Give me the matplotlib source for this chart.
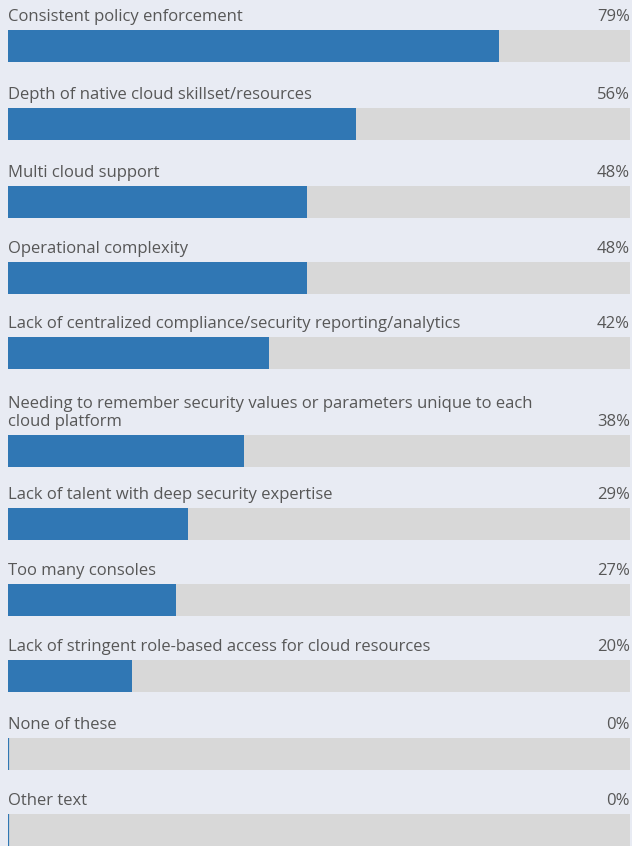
import matplotlib
matplotlib.use("Agg")
import matplotlib.pyplot as plt
import matplotlib.transforms as mtransforms

categories = [
    "Consistent policy enforcement",
    "Depth of native cloud skillset/resources",
    "Multi cloud support",
    "Operational complexity",
    "Lack of centralized compliance/security reporting/analytics",
    "Needing to remember security values or parameters unique to each\ncloud platform",
    "Lack of talent with deep security expertise",
    "Too many consoles",
    "Lack of stringent role-based access for cloud resources",
    "None of these",
    "Other text",
]
values = [79, 56, 48, 48, 42, 38, 29, 27, 20, 0, 0]
value_labels = [f"{v}%" for v in values]

# layout (pixel rows, top of each bar)
bar_tops = [30, 108, 186, 262, 337, 435, 508, 584, 660, 738, 814]
bar_h = 32

BG = "#e8ebf3"
TRACK = "#d8d8d8"
BLUE = "#3077b4"
TEXT = "#575757"

W, H = 632, 846
fig = plt.figure(figsize=(W / 100, H / 100), dpi=100, facecolor=BG)
ax = fig.add_axes([8 / W, 0, (630 - 8) / W, 1])
ax.set_facecolor(BG)
ax.set_xlim(0, 100)
ax.set_ylim(H, 0)
ax.axis("off")

centers = [t + bar_h / 2 for t in bar_tops]
ax.barh(centers, [100] * len(values), height=bar_h, color=TRACK, linewidth=0)
ax.barh(centers, values, height=bar_h, color=BLUE, linewidth=0)
# leading edge marker so empty bars still show their start
ax.vlines([0] * len(values), [t for t in bar_tops], [t + bar_h for t in bar_tops],
          color=BLUE, linewidth=1.6)

trans = mtransforms.blended_transform_factory(fig.transFigure, ax.transData)
font = dict(family=["Open Sans", "DejaVu Sans"], fontsize=12, color=TEXT)
for cat, lab, top in zip(categories, value_labels, bar_tops):
    ax.text(8 / W, top - 5, cat, transform=trans, ha="left", va="bottom",
            linespacing=1.17, **font)
    ax.text(630 / W, top - 5, lab, transform=trans, ha="right", va="bottom", **font)

fig.savefig("out.png", dpi=100, facecolor=BG)
